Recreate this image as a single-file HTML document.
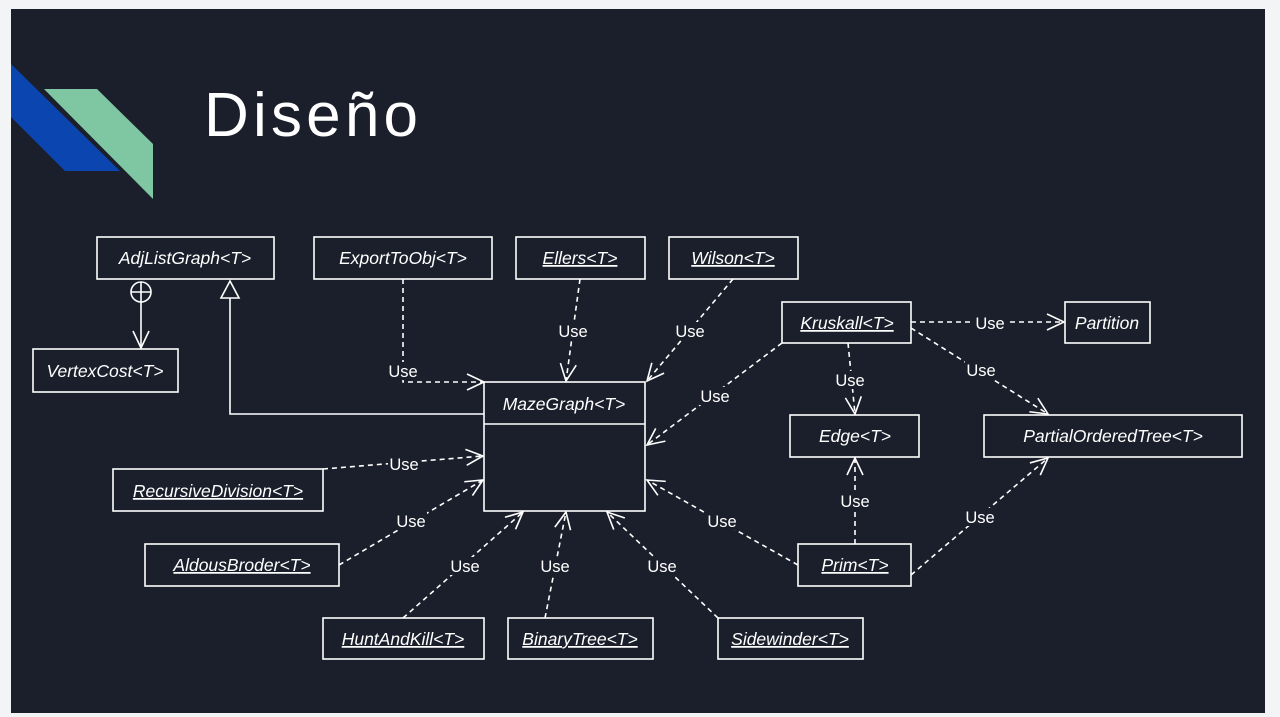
<!DOCTYPE html>
<html><head><meta charset="utf-8"><style>
html,body{margin:0;padding:0;background:#f3f4f5;}
svg{display:block}
.b{fill:#1b1f2b;stroke:#fff;stroke-width:1.6}
.t{font-family:"Liberation Sans",sans-serif;font-style:italic;font-size:17.5px;fill:#fff;text-anchor:middle}
.u{text-decoration:underline}
.d{stroke:#fff;stroke-width:1.6;stroke-dasharray:5,4;fill:none;marker-end:url(#a)}
.l{font-family:"Liberation Sans",sans-serif;font-size:16.5px;fill:#fff;text-anchor:middle}
</style></head><body>
<svg width="1280" height="717" viewBox="0 0 1280 717">
<defs>
<marker id="a" markerWidth="24" markerHeight="24" refX="20" refY="12" orient="auto" markerUnits="userSpaceOnUse">
<path d="M3,4 L20,12 L3,20" fill="none" stroke="#fff" stroke-width="1.6" stroke-dasharray="none"/>
</marker>
</defs>
<rect x="0" y="0" width="1280" height="717" fill="#f3f4f5"/>
<rect x="11" y="9" width="1254" height="704" fill="#1b1f2b"/>
<polygon points="11,64 120,171 65,171 11,117" fill="#0a45b0"/>
<polygon points="44,89 97,89 153,144 153,199" fill="#7fc6a2"/>
<text x="204" y="136" font-family="Liberation Sans,sans-serif" font-size="62" fill="#fff" textLength="214" lengthAdjust="spacing">Diseño</text>

<circle cx="141" cy="292" r="10" fill="none" stroke="#fff" stroke-width="1.6"/>
<line x1="131" y1="292" x2="151" y2="292" stroke="#fff" stroke-width="1.6"/>
<line x1="141" y1="282" x2="141" y2="302" stroke="#fff" stroke-width="1.6"/>
<line x1="141" y1="302" x2="141" y2="348" stroke="#fff" stroke-width="1.6" marker-end="url(#a)"/>
<polyline points="484,414 230,414 230,298" fill="none" stroke="#fff" stroke-width="1.6"/>
<polygon points="230,281 221,298 239,298" fill="#1b1f2b" stroke="#fff" stroke-width="1.6"/>

<polyline class="d" points="403,279 403,382 484,382"/>
<line class="d" x1="580" y1="279" x2="566" y2="381"/>
<line class="d" x1="733" y1="279" x2="647" y2="381"/>
<line class="d" x1="782" y1="343" x2="647" y2="445"/>
<line class="d" x1="911" y1="322" x2="1064" y2="322"/>
<line class="d" x1="848" y1="343" x2="855" y2="414"/>
<line class="d" x1="911" y1="328" x2="1048" y2="414"/>
<line class="d" x1="323" y1="469" x2="483" y2="456"/>
<line class="d" x1="339" y1="565" x2="483" y2="480"/>
<line class="d" x1="403" y1="618" x2="523" y2="512"/>
<line class="d" x1="545" y1="618" x2="566" y2="512"/>
<line class="d" x1="718" y1="618" x2="607" y2="512"/>
<line class="d" x1="798" y1="565" x2="647" y2="480"/>
<line class="d" x1="855" y1="544" x2="855" y2="458"/>
<line class="d" x1="911" y1="575" x2="1048" y2="458"/>

<g fill="#1b1f2b">
<rect x="387" y="362" width="32" height="18"/>
<rect x="557" y="322" width="32" height="18"/>
<rect x="674" y="322" width="32" height="18"/>
<rect x="699" y="387" width="32" height="18"/>
<rect x="973" y="314" width="34" height="18"/>
<rect x="834" y="371" width="32" height="18"/>
<rect x="965" y="361" width="32" height="18"/>
<rect x="388" y="455" width="32" height="18"/>
<rect x="395" y="512" width="32" height="18"/>
<rect x="449" y="557" width="32" height="18"/>
<rect x="539" y="557" width="32" height="18"/>
<rect x="646" y="557" width="32" height="18"/>
<rect x="706" y="512" width="32" height="18"/>
<rect x="839" y="492" width="32" height="18"/>
<rect x="964" y="508" width="32" height="18"/>
</g>
<text class="l" x="403" y="377">Use</text>
<text class="l" x="573" y="337">Use</text>
<text class="l" x="690" y="337">Use</text>
<text class="l" x="715" y="402">Use</text>
<text class="l" x="990" y="329">Use</text>
<text class="l" x="850" y="386">Use</text>
<text class="l" x="981" y="376">Use</text>
<text class="l" x="404" y="470">Use</text>
<text class="l" x="411" y="527">Use</text>
<text class="l" x="465" y="572">Use</text>
<text class="l" x="555" y="572">Use</text>
<text class="l" x="662" y="572">Use</text>
<text class="l" x="722" y="527">Use</text>
<text class="l" x="855" y="507">Use</text>
<text class="l" x="980" y="523">Use</text>

<rect class="b" x="97" y="237" width="177" height="42"/><text class="t" x="185" y="264">AdjListGraph&lt;T&gt;</text>
<rect class="b" x="314" y="237" width="178" height="42"/><text class="t" x="403" y="264">ExportToObj&lt;T&gt;</text>
<rect class="b" x="516" y="237" width="129" height="42"/><text class="t u" x="580" y="264">Ellers&lt;T&gt;</text>
<rect class="b" x="669" y="237" width="129" height="42"/><text class="t u" x="733" y="264">Wilson&lt;T&gt;</text>
<rect class="b" x="33" y="349" width="145" height="43"/><text class="t" x="105" y="377">VertexCost&lt;T&gt;</text>
<rect class="b" x="484" y="382" width="161" height="129"/><line x1="484" y1="424" x2="645" y2="424" stroke="#fff" stroke-width="1.6"/>
<text class="t" x="564" y="410">MazeGraph&lt;T&gt;</text>
<rect class="b" x="782" y="302" width="129" height="41"/><text class="t u" x="847" y="329">Kruskall&lt;T&gt;</text>
<rect class="b" x="1065" y="302" width="85" height="41"/><text class="t" x="1107" y="329">Partition</text>
<rect class="b" x="790" y="415" width="129" height="42"/><text class="t" x="855" y="442">Edge&lt;T&gt;</text>
<rect class="b" x="984" y="415" width="258" height="42"/><text class="t" x="1113" y="442">PartialOrderedTree&lt;T&gt;</text>
<rect class="b" x="113" y="469" width="210" height="42"/><text class="t u" x="218" y="497">RecursiveDivision&lt;T&gt;</text>
<rect class="b" x="145" y="544" width="194" height="42"/><text class="t u" x="242" y="571">AldousBroder&lt;T&gt;</text>
<rect class="b" x="798" y="544" width="113" height="42"/><text class="t u" x="855" y="571">Prim&lt;T&gt;</text>
<rect class="b" x="323" y="618" width="161" height="41"/><text class="t u" x="403" y="645">HuntAndKill&lt;T&gt;</text>
<rect class="b" x="508" y="618" width="145" height="41"/><text class="t u" x="580" y="645">BinaryTree&lt;T&gt;</text>
<rect class="b" x="718" y="618" width="145" height="41"/><text class="t u" x="790" y="645">Sidewinder&lt;T&gt;</text>
</svg>
</body></html>
